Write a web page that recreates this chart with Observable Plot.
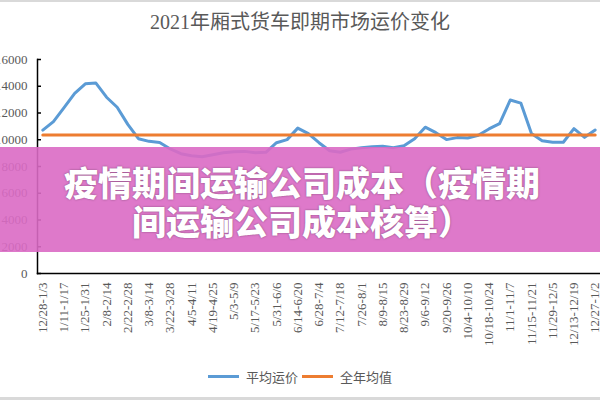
<!DOCTYPE html>
<html><head><meta charset="utf-8">
<script src="https://cdn.jsdelivr.net/npm/d3@7"></script>
<script src="https://cdn.jsdelivr.net/npm/@observablehq/plot@0.6"></script>
<style>
body{margin:0;background:#fff;}
#wrap{position:relative;width:600px;height:400px;overflow:hidden;background:#fff;font-family:"Liberation Serif","Noto Sans CJK SC",serif;}
#topb{position:absolute;top:0;left:0;width:600px;height:2px;background:#d9d9d9;}
#botb{position:absolute;top:397px;left:0;width:600px;height:3px;background:#d9d9d9;}
#title{position:absolute;top:0;left:0;width:600px;height:45px;line-height:45px;text-align:center;font-size:20px;color:#595959;}
#chart{position:absolute;top:45px;left:0;}
#legend{position:absolute;top:366px;left:0;width:600px;height:20px;display:flex;justify-content:center;align-items:center;font-size:13px;color:#595959;}
.item{display:flex;align-items:center;margin:0 2px;}
.sw{display:inline-block;width:31px;height:3px;margin-right:7px;}
#band{position:absolute;left:0;top:147px;width:600px;height:105px;background:rgba(218,106,196,0.9);display:flex;flex-direction:column;justify-content:center;align-items:center;color:#fff;font-family:"Noto Sans CJK SC",sans-serif;font-weight:900;font-size:34px;line-height:39px;text-shadow:0 0 2px rgba(60,40,60,0.6);padding-top:3px;padding-left:4px;box-sizing:border-box;}
</style></head>
<body>
<div id="wrap">
  <div id="topb"></div>
  <div id="title">2021年厢式货车即期市场运价变化</div>
  <div id="chart"></div>
  <div id="legend"></div>
  <div id="band"><div>疫情期间运输公司成本（疫情期</div><div>间运输公司成本核算）</div></div>
  <div id="botb"></div>
</div>
<script>
const weeks = ["12/28-1/3","1/4-1/10","1/11-1/17","1/18-1/24","1/25-1/31","2/1-2/7","2/8-2/14","2/15-2/21","2/22-2/28","3/1-3/7","3/8-3/14","3/15-3/21","3/22-3/28","3/29-4/4","4/5-4/11","4/12-4/18","4/19-4/25","4/26-5/2","5/3-5/9","5/10-5/16","5/17-5/23","5/24-5/30","5/31-6/6","6/7-6/13","6/14-6/20","6/21-6/27","6/28-7/4","7/5-7/11","7/12-7/18","7/19-7/25","7/26-8/1","8/2-8/8","8/9-8/15","8/16-8/22","8/23-8/29","8/30-9/5","9/6-9/12","9/13-9/19","9/20-9/26","9/27-10/3","10/4-10/10","10/11-10/17","10/18-10/24","10/25-10/31","11/1-11/7","11/8-11/14","11/15-11/21","11/22-11/28","11/29-12/5","12/6-12/12","12/13-12/19","12/20-12/26","12/27-1/2"];
const tickLabels = ["12/28-1/3","1/11-1/17","1/25-1/31","2/8-2/14","2/22-2/28","3/8-3/14","3/22-3/28","4/5-4/11","4/19-4/25","5/3-5/9","5/17-5/23","5/31-6/6","6/14-6/20","6/28-7/4","7/12-7/18","7/26-8/1","8/9-8/15","8/23-8/29","9/6-9/12","9/20-9/26","10/4-10/10","10/18-10/24","11/1-11/7","11/15-11/21","11/29-12/5","12/13-12/19","12/27-1/2"];
const avgPrice = [10720,11360,12400,13460,14180,14240,13180,12430,11150,10080,9880,9800,9310,8960,8810,8730,8880,9030,9110,9130,9030,9060,9780,10010,10870,10460,9780,9180,9070,9300,9410,9480,9520,9410,9560,10080,10940,10530,10010,10160,10130,10340,10810,11210,12970,12740,10460,9930,9810,9810,10830,10180,10730];
const annualMean = 10350;
const yTicks = [0,2000,4000,6000,8000,10000,12000,14000,16000];
const seriesNames = ["平均运价","全年均值"];
const seriesColors = ["#5B9BD5","#ED7D31"];

const rows = weeks.map((w,i)=>({week:w, avg:avgPrice[i], mean:annualMean}));

const plot = Plot.plot({
  width:600, height:305,
  marginLeft:37, marginRight:0, marginTop:14, marginBottom:77,
  style:{fontFamily:"Liberation Serif, serif", fontSize:"13px", color:"#595959", background:"transparent"},
  x:{type:"point", domain:weeks, padding:0.5, label:null},
  y:{domain:[0,16000], label:null},
  marks:[
    Plot.axisY({ticks:yTicks, tickSize:0, tickPadding:10, tickFormat:d=>String(d), label:null, fill:"#595959"}),
    Plot.axisY({ticks:yTicks, tickSize:-4, text:null, label:null, stroke:"#000", strokeWidth:1.5}),
    Plot.axisX({ticks:tickLabels, tickSize:0, tickPadding:9, tickRotate:-90, label:null, fill:"#595959"}),
    Plot.lineY(rows, {x:"week", y:"avg", stroke:seriesColors[0], strokeWidth:3}),
    Plot.lineY(rows, {x:"week", y:"mean", stroke:seriesColors[1], strokeWidth:3}),
    Plot.frame({anchor:"left", stroke:"#000", strokeWidth:1.5}),
    Plot.frame({anchor:"bottom", stroke:"#000", strokeWidth:1.5})
  ]
});
document.getElementById("chart").appendChild(plot);

const lg = document.getElementById("legend");
seriesNames.forEach((n,i)=>{
  const it = document.createElement("div"); it.className="item";
  const sw = document.createElement("span"); sw.className="sw"; sw.style.background=seriesColors[i];
  const tx = document.createElement("span"); tx.textContent=n;
  it.appendChild(sw); it.appendChild(tx); lg.appendChild(it);
});
</script>
</body></html>
